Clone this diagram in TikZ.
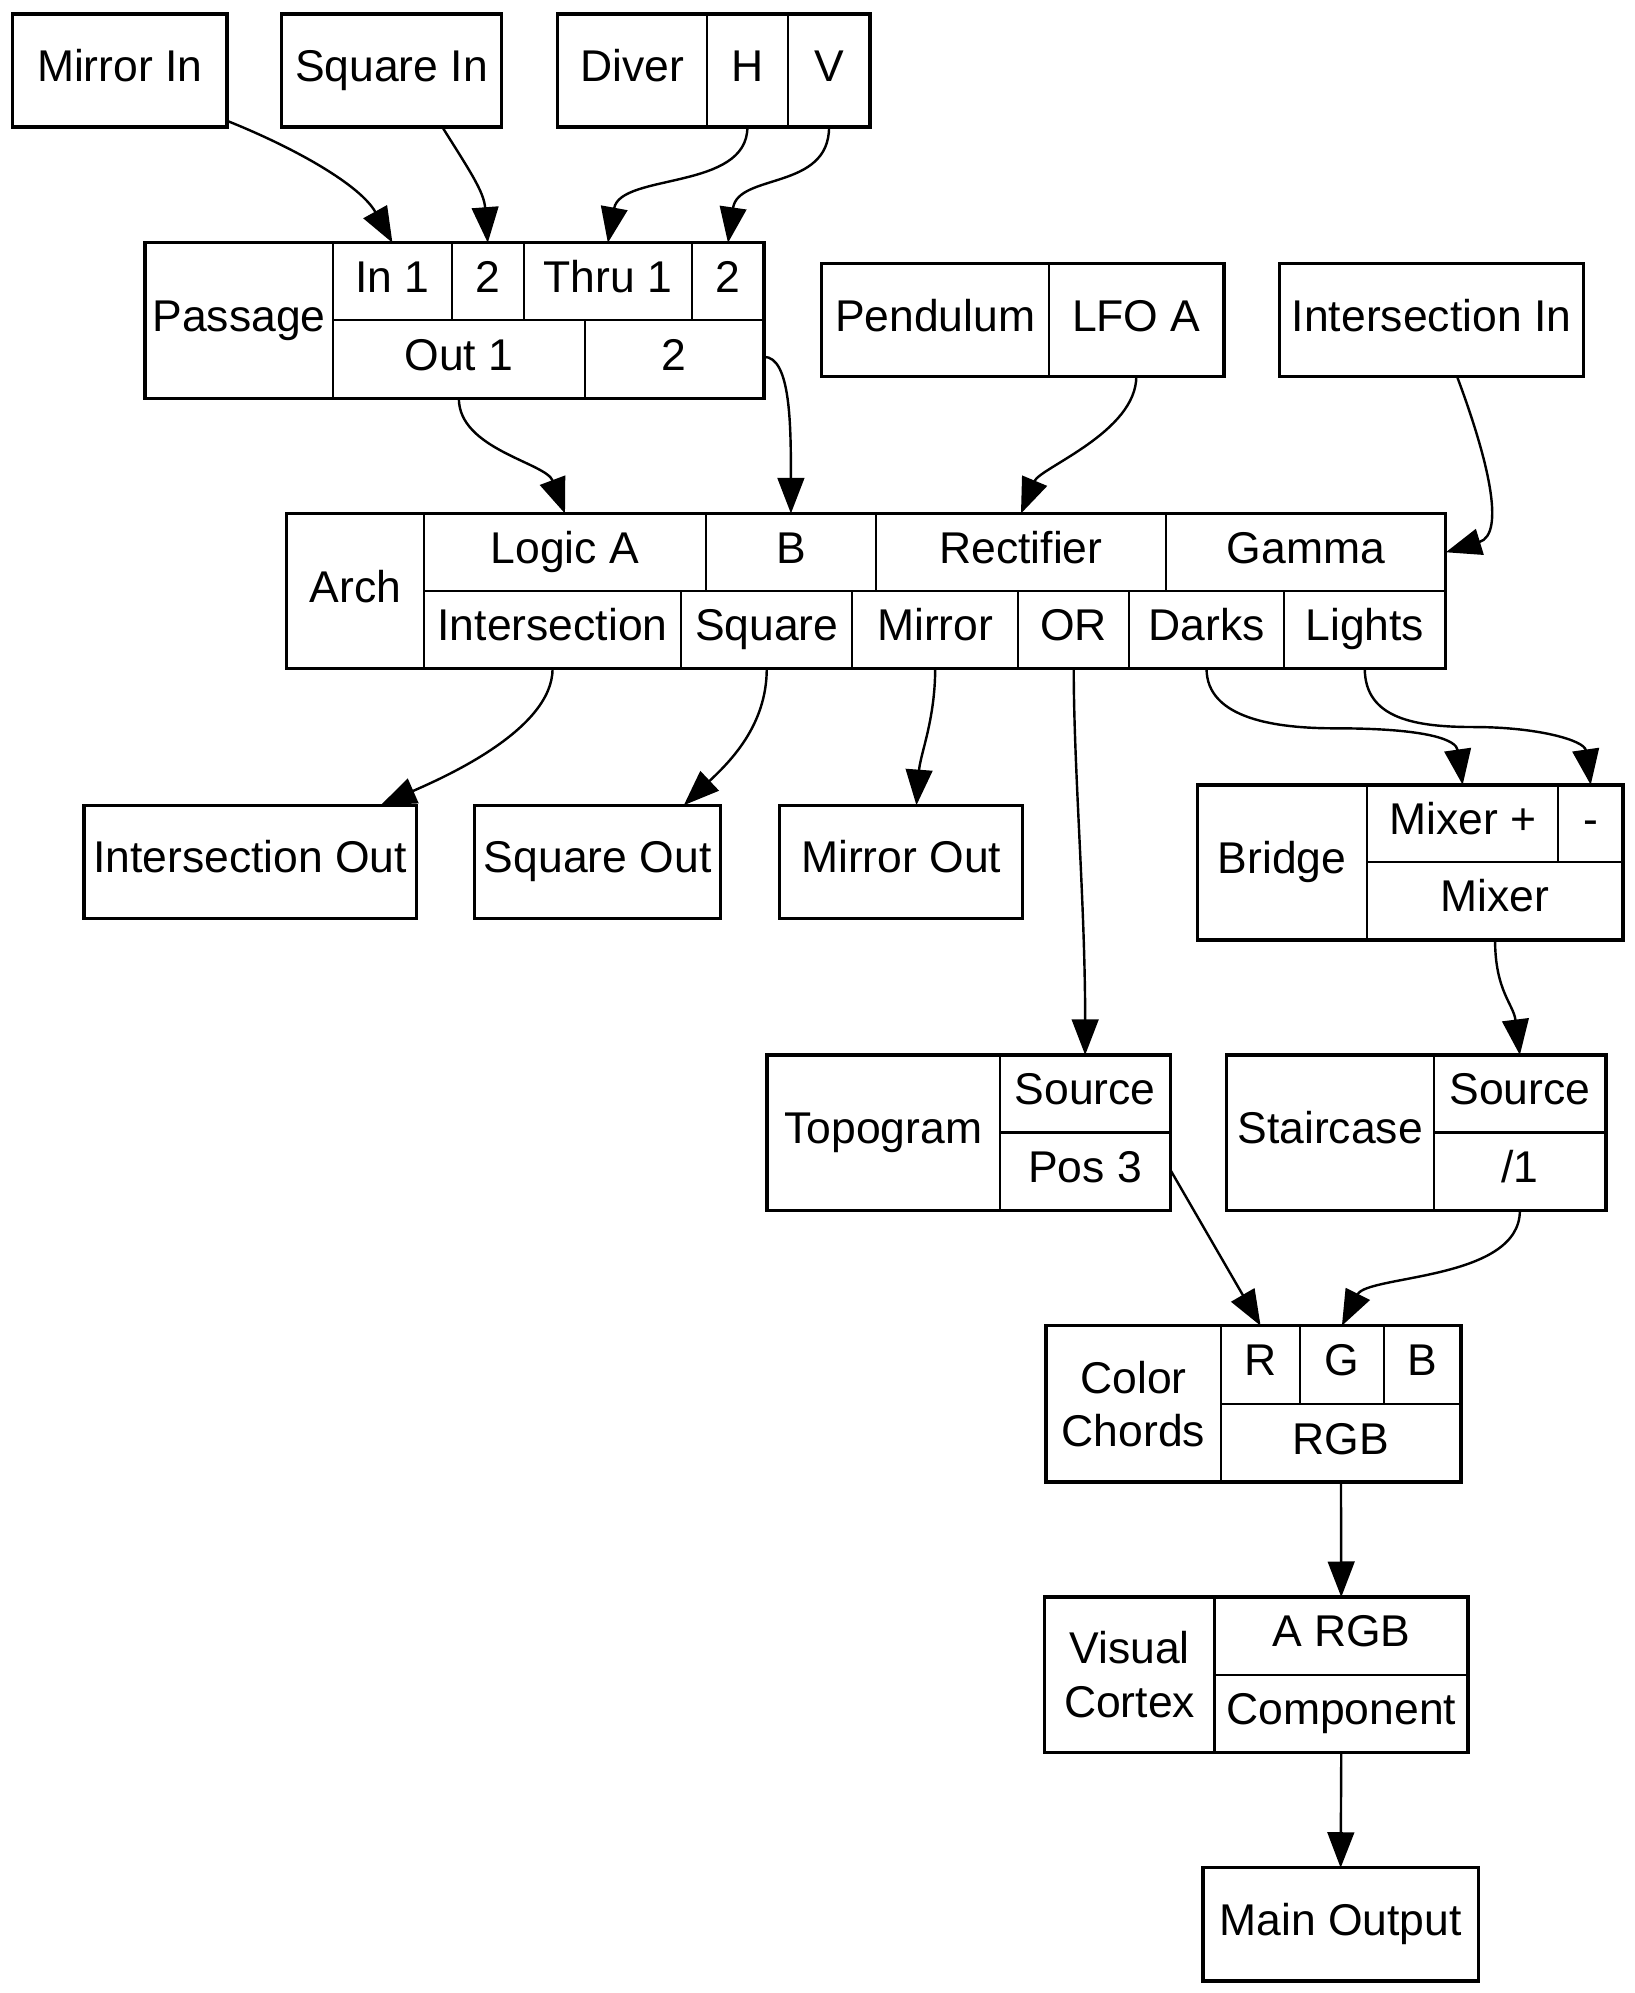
\documentclass[tikz,border=0pt]{standalone}
\usepackage{fontspec}
\setmainfont{Liberation Sans}
\usetikzlibrary{arrows.meta,fit}
\tikzset{
  fld/.style={
    draw, line width=0.8pt,
    inner sep=0pt, outer sep=0pt,
    font=\fontsize{17.5}{21}\selectfont,
    text height=13.1pt, text depth=4.4pt,
    align=center
  },
  fldtwo/.style={fld, text height=, text depth=},
  recbox/.style={fld, line width=1.3pt},
  recframe/.style={draw, line width=1.3pt, inner sep=0pt, outer sep=0pt},
  wire/.style={-{Triangle[length=14pt,width=10.5pt]}, line width=0.95pt}
}
% one record field: [style]{name}{x1}{y1}{x2}{y2}{text}
\newcommand\fld[7][fld]{%
  \pgfmathsetmacro\fldw{(#5-#3)/2}%
  \pgfmathsetmacro\fldh{(#6-#4)/2}%
  \node[#1, minimum width=\fldw pt, minimum height=\fldh pt] (#2) at ({(#3+#5)/2},{(#4+#6)/2}) {#7};}

\begin{document}
\begin{tikzpicture}[x=0.5pt,y=-0.5pt]
\useasboundingbox (0,0) rectangle (1286,1568);

% ---- inputs ----
\fld[recbox]{mirin}{10}{11}{178.5}{100}{Mirror In}
\fld[recbox]{sqin}{221.5}{11}{394.5}{100}{Square In}
\fld{diver}{438.5}{11}{556}{100}{Diver}
\fld{diverh}{556}{11}{620}{100}{H}
\fld{diverv}{620}{11}{684.5}{100}{V}
\node[recframe, fit=(diver)(diverv)] (diverrec) {};

% ---- Passage ----
\fld{pas}{114}{191}{262}{313.5}{Passage}
\fld{pasin1}{262}{191}{355.5}{252}{In 1}
\fld{pasin2}{355.5}{191}{412}{252}{2}
\fld{pasthru1}{412}{191}{544.5}{252}{Thru 1}
\fld{pasthru2}{544.5}{191}{601}{252}{2}
\fld{pasout1}{262}{252}{460}{313.5}{Out 1}
\fld{pasout2}{460}{252}{601}{313.5}{2}
\node[recframe, fit=(pas)(pasout2)(pasthru2)] (passage) {};

% ---- Pendulum, Intersection In ----
\fld{pend}{646.5}{207.5}{825}{296}{Pendulum}
\fld{pendlfo}{825}{207.5}{963}{296}{LFO A}
\node[recframe, fit=(pend)(pendlfo)] (pendrec) {};
\fld[recbox]{isin}{1006.5}{207.5}{1246}{296}{Intersection In}

% ---- Arch ----
\fld{arch}{225.5}{404}{333.5}{526}{Arch}
\fld{archlogic}{333.5}{404}{555.5}{465}{Logic A}
\fld{archb}{555.5}{404}{689}{465}{B}
\fld{archrect}{689}{404}{917.5}{465}{Rectifier}
\fld{archgamma}{917.5}{404}{1137.5}{465}{Gamma}
\fld{archisect}{333.5}{465}{536}{526}{Intersection}
\fld{archsq}{536}{465}{670.5}{526}{Square}
\fld{archmir}{670.5}{465}{801}{526}{Mirror}
\fld{archor}{801}{465}{888.5}{526}{OR}
\fld{archdark}{888.5}{465}{1010}{526}{Darks}
\fld{archlight}{1010}{465}{1137.5}{526}{Lights}
\node[recframe, fit=(arch)(archgamma)(archlight)] (archrec) {};

% ---- outputs of Arch ----
\fld[recbox]{isout}{66}{633.5}{327.5}{722.5}{Intersection Out}
\fld[recbox]{sqout}{373.5}{633.5}{567}{722.5}{Square Out}
\fld[recbox]{mirout}{613.5}{633.5}{804.5}{722.5}{Mirror Out}

% ---- Bridge ----
\fld{bridge}{942}{617.5}{1075.5}{739.5}{Bridge}
\fld{bridgep}{1075.5}{617.5}{1226}{678}{Mixer +}
\fld{bridgem}{1226}{617.5}{1277}{678}{-}
\fld{bridgemix}{1075.5}{678}{1277}{739.5}{Mixer}
\node[recframe, fit=(bridge)(bridgem)(bridgemix)] (bridgerec) {};

% ---- Topogram, Staircase ----
\fld{topo}{603.5}{830}{786.5}{952.5}{Topogram}
\fld{toposrc}{786.5}{830}{921}{891}{Source}
\fld{topopos}{786.5}{891}{921}{952.5}{Pos 3}
\node[recframe, fit=(topo)(toposrc)(topopos)] (toporec) {};
\fld{stair}{965}{830}{1128}{952.5}{Staircase}
\fld{stairsrc}{1128}{830}{1263.5}{891}{Source}
\fld{stairdiv}{1128}{891}{1263.5}{952.5}{/1}
\node[recframe, fit=(stair)(stairsrc)(stairdiv)] (stairrec) {};

% ---- Color Chords ----
\fld[fldtwo]{chords}{823}{1043}{960.5}{1166}{Color\\Chords}
\fld{chordsr}{960.5}{1043}{1023}{1104.5}{R}
\fld{chordsg}{1023}{1043}{1088.5}{1104.5}{G}
\fld{chordsb}{1088.5}{1043}{1149.5}{1104.5}{B}
\fld{chordsrgb}{960.5}{1104.5}{1149.5}{1166}{RGB}
\node[recframe, fit=(chords)(chordsb)(chordsrgb)] (chordsrec) {};

% ---- Visual Cortex, Main Output ----
\fld[fldtwo]{cortex}{822}{1256.5}{955.5}{1378.5}{Visual\\Cortex}
\fld{cortexa}{955.5}{1256.5}{1155}{1317.5}{A RGB}
\fld{cortexc}{955.5}{1317.5}{1155}{1378.5}{Component}
\node[recframe, fit=(cortex)(cortexa)(cortexc)] (cortexrec) {};
\fld[recbox]{mainout}{946.5}{1469.5}{1163}{1558.5}{Main Output}

% ---- connections ----
\draw[wire] ([yshift=2.5pt]mirin.south east) .. controls +(55,22) and +(-25,-45) .. (pasin1.north);
\draw[wire] ([xshift=20pt]sqin.south) .. controls +(22,35) and +(-3,-40) .. (pasin2.north);
\draw[wire] (diverh.south) .. controls +(0,50) and +(10,-55) .. (pasthru1.north);
\draw[wire] (diverv.south) .. controls +(0,50) and +(8,-55) .. (pasthru2.north);

\draw[wire] (pasout1.south) .. controls +(0,40) and +(-15,-40) .. (archlogic.north);
\draw[wire] ([yshift=1pt]pasout2.east) .. controls +(21,0) and +(0,-70) .. (archb.north);
\draw[wire] (pendlfo.south) .. controls +(0,44) and +(15,-36) .. (archrect.north);
\draw[wire] ([xshift=10pt]isin.south) .. controls +(24,64) and +(47.5,-14.5) .. (archgamma.east);

\draw[wire] (archisect.south) .. controls +(0,48) and +(50,-22) .. ([xshift=-14pt]isout.north east);
\draw[wire] (archsq.south) .. controls +(0,45) and +(36,-34) .. ([xshift=-14.5pt]sqout.north east);
\draw[wire] (archmir.south) .. controls +(0,40) and +(3,-40) .. ([xshift=6pt]mirout.north);
\draw[wire] (archor.south) .. controls +(0,80) and +(0,-120) .. (toposrc.north);
\draw[wire] (archdark.south) .. controls +(0,40) and +(-45,0) .. ([shift={(101,47)}]archdark.south)
  .. controls +(75,0) and +(-5,-35) .. (bridgep.north);
\draw[wire] (archlight.south) .. controls +(0,40) and +(-45,0) .. ([shift={(86,46)}]archlight.south)
  .. controls +(50,0) and +(-5,-35) .. (bridgem.north);

\draw[wire] (bridgemix.south) .. controls +(0,40) and +(-5,-40) .. (stairsrc.north);
\draw[wire] ([yshift=0.5pt]topopos.east) -- (chordsr.north);
\draw[wire] (stairdiv.south) .. controls +(0,55) and +(20,-40) .. (chordsg.north);
\draw[wire] (chordsrgb.south) -- (cortexa.north);
\draw[wire] (cortexc.south) -- (mainout.north);

\end{tikzpicture}
\end{document}
